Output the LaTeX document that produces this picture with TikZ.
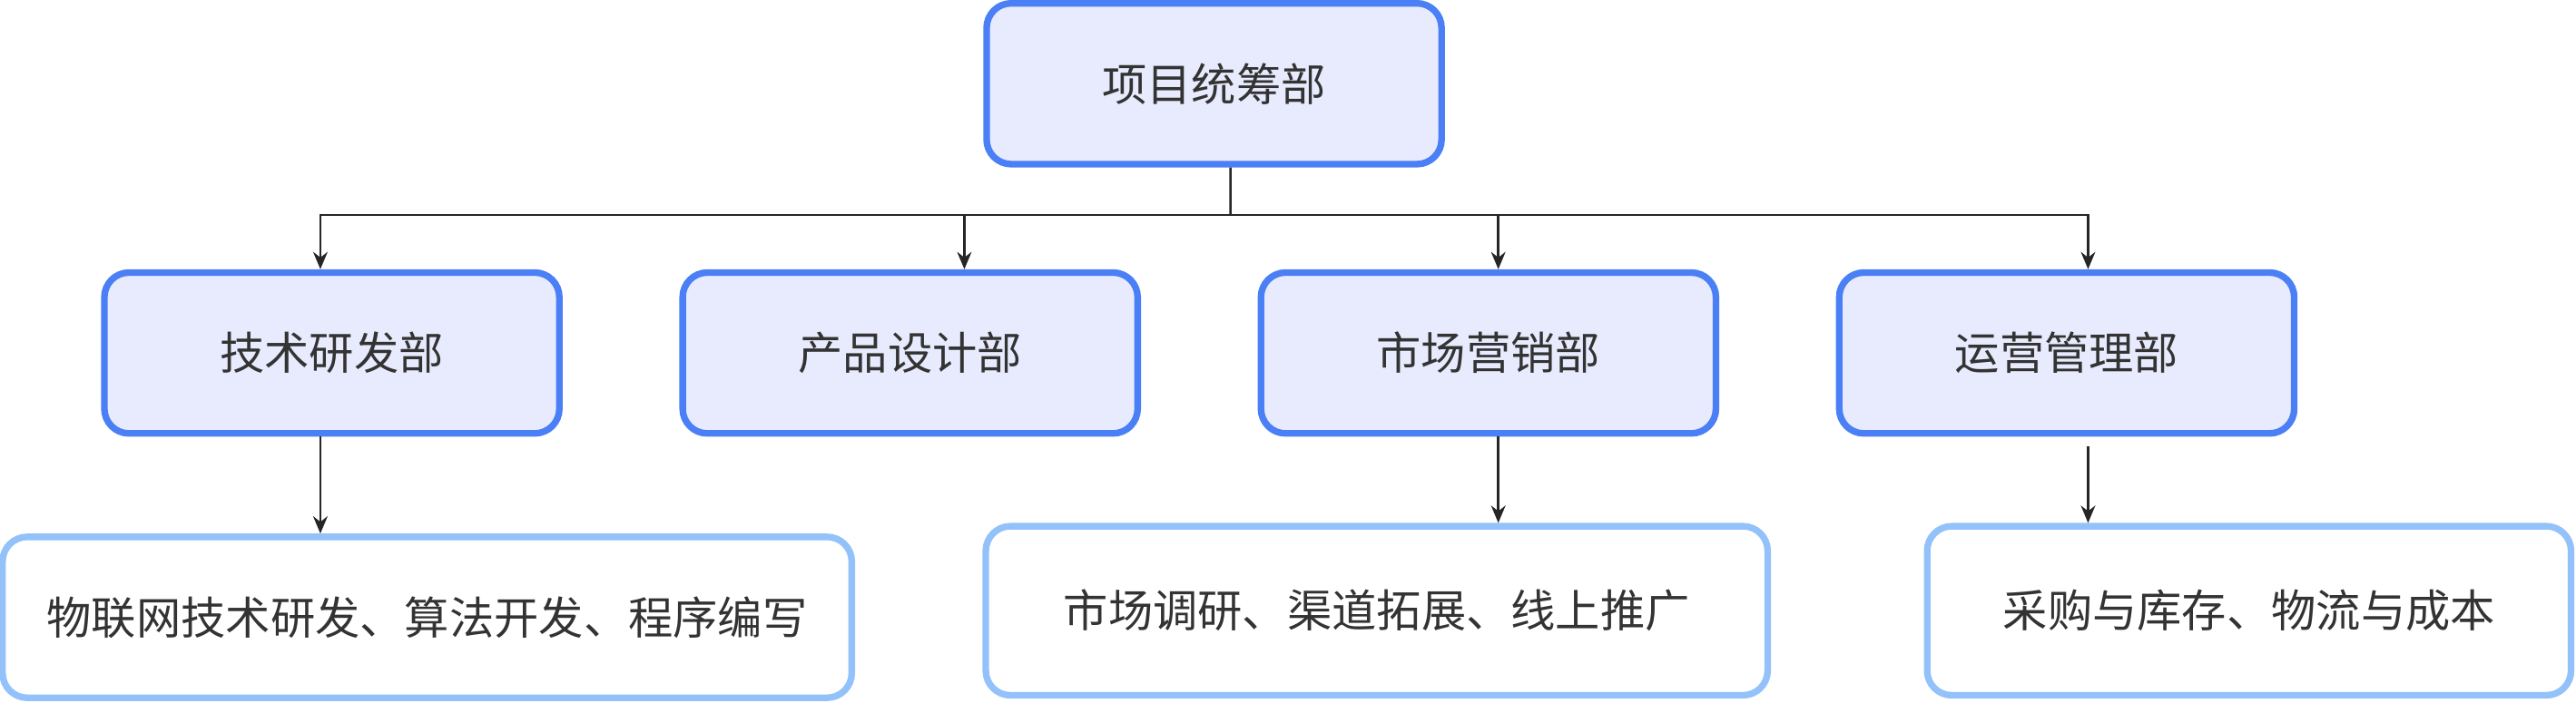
\documentclass[tikz,border=0pt]{standalone}
\usepackage{fontspec}
\setmainfont{Noto Sans CJK SC}
\usetikzlibrary{arrows.meta}
\definecolor{deptfill}{HTML}{E8EBFD}
\definecolor{deptline}{HTML}{4A7FF5}
\definecolor{taskline}{HTML}{93C2FA}
\definecolor{txt}{HTML}{333333}
\tikzset{
  dept/.style={draw=deptline,fill=deptfill,line width=2.3pt,rounded corners=0.3cm,
    minimum width=5.54cm,minimum height=1.96cm,text=txt,font=\fontsize{15.5}{18}\selectfont},
  task/.style={dept,draw=taskline,fill=white},
  arr/.style={-{Stealth[length=6pt,width=5pt]},line width=0.8pt,draw=black!85}
}
\begin{document}
\begin{tikzpicture}[x=0.02cm,y=-0.02cm]
  \useasboundingbox (0,0) rectangle (1568,428);
  % departments
  \node[dept] (head) at (739,51) {项目统筹部};
  \foreach \name/\x/\txt in {tech/202/技术研发部, prod/554/产品设计部, mark/906/市场营销部, ops/1258/运营管理部}
    \node[dept] (\name) at (\x,215) {\txt};
  % tasks
  \node[task,minimum width=10.34cm] (techtask) at (260,376) {物联网技术研发、算法开发、程序编写};
  \node[task,minimum width=9.52cm,minimum height=2.06cm] (marktask) at (838,372) {市场调研、渠道拓展、线上推广};
  \node[task,minimum width=7.84cm,minimum height=2.06cm] (opstask) at (1369,372) {采购与库存、物流与成本};
  % bus
  \coordinate (bus) at (749,131);
  \draw[line width=0.8pt,draw=black!85] ([xshift=0.2cm]head.south) -- (bus);
  \draw[arr] (bus) -| ([xshift=-0.14cm]tech.north);
  \draw[arr] (bus) -| ([xshift=0.66cm]prod.north);
  \draw[arr] (bus) -| ([xshift=0.12cm]mark.north);
  \draw[arr] (bus) -| ([xshift=0.26cm]ops.north);
  % down links
  \draw[arr] ([xshift=-0.14cm]tech.south) -- ([xshift=-0.14cm]tech.south |- techtask.north);
  \draw[arr] ([xshift=0.12cm]mark.south) -- ([xshift=0.12cm]mark.south |- marktask.north);
  \draw[arr,shorten <=0.12cm] ([xshift=0.26cm]ops.south) -- ([xshift=0.26cm]ops.south |- opstask.north);
\end{tikzpicture}
\end{document}
